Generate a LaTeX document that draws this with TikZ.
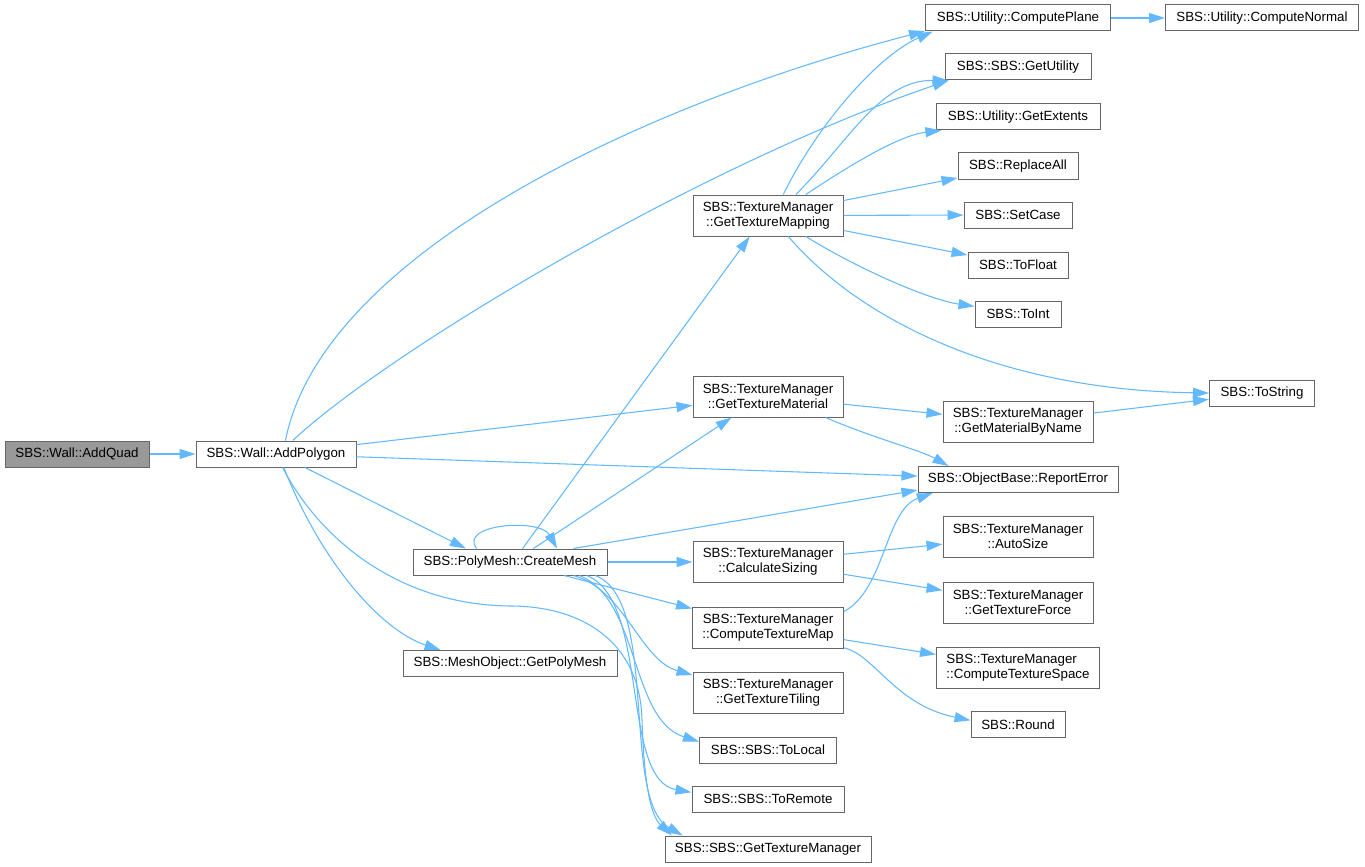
\documentclass[tikz,border=0pt]{standalone}
\usepackage{fontspec}
\setmainfont{Liberation Sans}
\usetikzlibrary{arrows.meta}
\definecolor{edgeblue}{HTML}{63B8FF}
\definecolor{boxgray}{HTML}{666666}
\definecolor{rootfill}{HTML}{999999}
\begin{document}
\begin{tikzpicture}[x=0.75pt,y=-0.75pt]
\tikzstyle{every node}+=[inner sep=0pt]
\tikzstyle{func}=[draw=boxgray,line width=0.75pt,fill=white,align=center,font=\fontsize{10}{11.25}\selectfont,minimum height=19.5pt]
\tikzstyle{func2}=[func,minimum height=30.75pt]
\tikzstyle{call}=[draw=edgeblue,line width=0.8pt,-{Triangle[length=12pt,width=7.5pt]}]
\useasboundingbox (0,0) rectangle (1365,867);

\node[func,fill=rootfill,minimum width=108pt] (quad) at (77,454) {SBS::Wall::AddQuad};
\node[func,minimum width=120pt] (poly) at (276,454) {SBS::Wall::AddPolygon};
\node[func,minimum width=145.5pt] (mesh) at (510,562) {SBS::PolyMesh::CreateMesh};
\node[func,minimum width=160.5pt] (polymesh) at (510,663.5) {SBS::MeshObject::GetPolyMesh};

\node[func2,minimum width=112.5pt] (tmap) at (768,215.5) {SBS::TextureManager\\::GetTextureMapping};
\node[func2,minimum width=112.5pt] (tmat) at (768,396.5) {SBS::TextureManager\\::GetTextureMaterial};
\node[func2,minimum width=112.5pt] (csize) at (768,562) {SBS::TextureManager\\::CalculateSizing};
\node[func2,minimum width=113.25pt] (ctmap) at (768,627.5) {SBS::TextureManager\\::ComputeTextureMap};
\node[func2,minimum width=112.5pt] (tiling) at (768,692.5) {SBS::TextureManager\\::GetTextureTiling};
\node[func,minimum width=102.75pt] (tolocal) at (768,750) {SBS::SBS::ToLocal};
\node[func,minimum width=114pt] (toremote) at (768,799) {SBS::SBS::ToRemote};
\node[func,minimum width=154.5pt] (tman) at (768,849) {SBS::SBS::GetTextureManager};

\node[func,minimum width=138.75pt] (cplane) at (1018,18) {SBS::Utility::ComputePlane};
\node[func,minimum width=109.5pt] (util) at (1018,67) {SBS::SBS::GetUtility};
\node[func,minimum width=123pt] (extents) at (1018,117) {SBS::Utility::GetExtents};
\node[func,minimum width=90pt] (replace) at (1018,166) {SBS::ReplaceAll};
\node[func,minimum width=81pt] (setcase) at (1018,215) {SBS::SetCase};
\node[func,minimum width=75pt] (tofloat) at (1018,265) {SBS::ToFloat};
\node[func,minimum width=64.5pt] (toint) at (1018,314) {SBS::ToInt};
\node[func2,minimum width=112.5pt] (matname) at (1018,422) {SBS::TextureManager\\::GetMaterialByName};
\node[func,minimum width=150pt] (report) at (1018,479.5) {SBS::ObjectBase::ReportError};
\node[func2,minimum width=112.5pt] (autosize) at (1018,536.5) {SBS::TextureManager\\::AutoSize};
\node[func2,minimum width=112.5pt] (force) at (1018,602.5) {SBS::TextureManager\\::GetTextureForce};
\node[func2,align=left,minimum width=122.25pt] (ctspace) at (1018,667.5) {SBS::TextureManager\\::ComputeTextureSpace};
\node[func,minimum width=70.5pt] (rnd) at (1018,724.5) {SBS::Round};

\node[func,minimum width=144.75pt] (cnormal) at (1262,18) {SBS::Utility::ComputeNormal};
\node[func,minimum width=78.75pt] (tostring) at (1262,393) {SBS::ToString};

% AddQuad / AddPolygon
\draw[call] (quad) -- (poly);
\draw[call] (poly.55) .. controls (322,255) and (640,105) .. (cplane.188);
\draw[call] (poly.39) .. controls (390,350) and (700,165) .. (util.191);
\draw[call] (poly) -- (tmat);
\draw[call] (poly) -- (report);
\draw[call] (poly.-25) -- (mesh.163);
\draw[call] (poly.-60) .. controls (320,560) and (380,630) .. (polymesh.169);
\draw[call] (poly.-64) .. controls (320,540) and (400,605) .. (510,606) .. controls (580,606) and (640,640) .. (642,720) .. controls (644,780) and (650,815) .. (tman.172);

% CreateMesh
\draw[call] (mesh.158) .. controls (458,524) and (540,518) .. (mesh.16);
\draw[call] (mesh.47) -- (tmap.229);
\draw[call] (mesh.30) -- (tmat.210);
\draw[call] (mesh.12) -- (report.186);
\draw[call] (mesh) -- (csize);
\draw[call] (mesh.-14) -- (ctmap.166);
\draw[call] (mesh.-12) .. controls (625,590) and (640,660) .. (tiling.167);
\draw[call] (mesh.-11) .. controls (640,600) and (630,720) .. (tolocal.173);
\draw[call] (mesh.-10) .. controls (650,600) and (620,780) .. (toremote.175);
\draw[call] (mesh.-9) .. controls (660,600) and (620,800) .. (tman.171);

% GetTextureMapping
\draw[call] (tmap.54) .. controls (820,120) and (880,55) .. (cplane.189);
\draw[call] (tmap.37) .. controls (850,140) and (880,80) .. (util.191);
\draw[call] (tmap.29) .. controls (850,165) and (900,135) .. (extents.190);
\draw[call] (tmap) -- (replace);
\draw[call] (tmap) -- (setcase);
\draw[call] (tmap) -- (tofloat);
\draw[call] (tmap.-29) .. controls (860,270) and (930,300) .. (toint.170);
\draw[call] (tmap.-46) .. controls (860,320) and (1000,390) .. (tostring.west);

\draw[call] (cplane) -- (cnormal);
\draw[call] (tmat) -- (matname);
\draw[call] (tmat.-20) .. controls (870,437) and (920,450) .. (report.169);
\draw[call] (matname) -- (tostring);
\draw[call] (csize) -- (autosize);
\draw[call] (csize) -- (force);
\draw[call] (ctmap.12) .. controls (885,590) and (885,510) .. (report.189);
\draw[call] (ctmap) -- (ctspace);
\draw[call] (ctmap.-15) .. controls (875,655) and (895,705) .. (rnd.175);
\end{tikzpicture}
\end{document}
